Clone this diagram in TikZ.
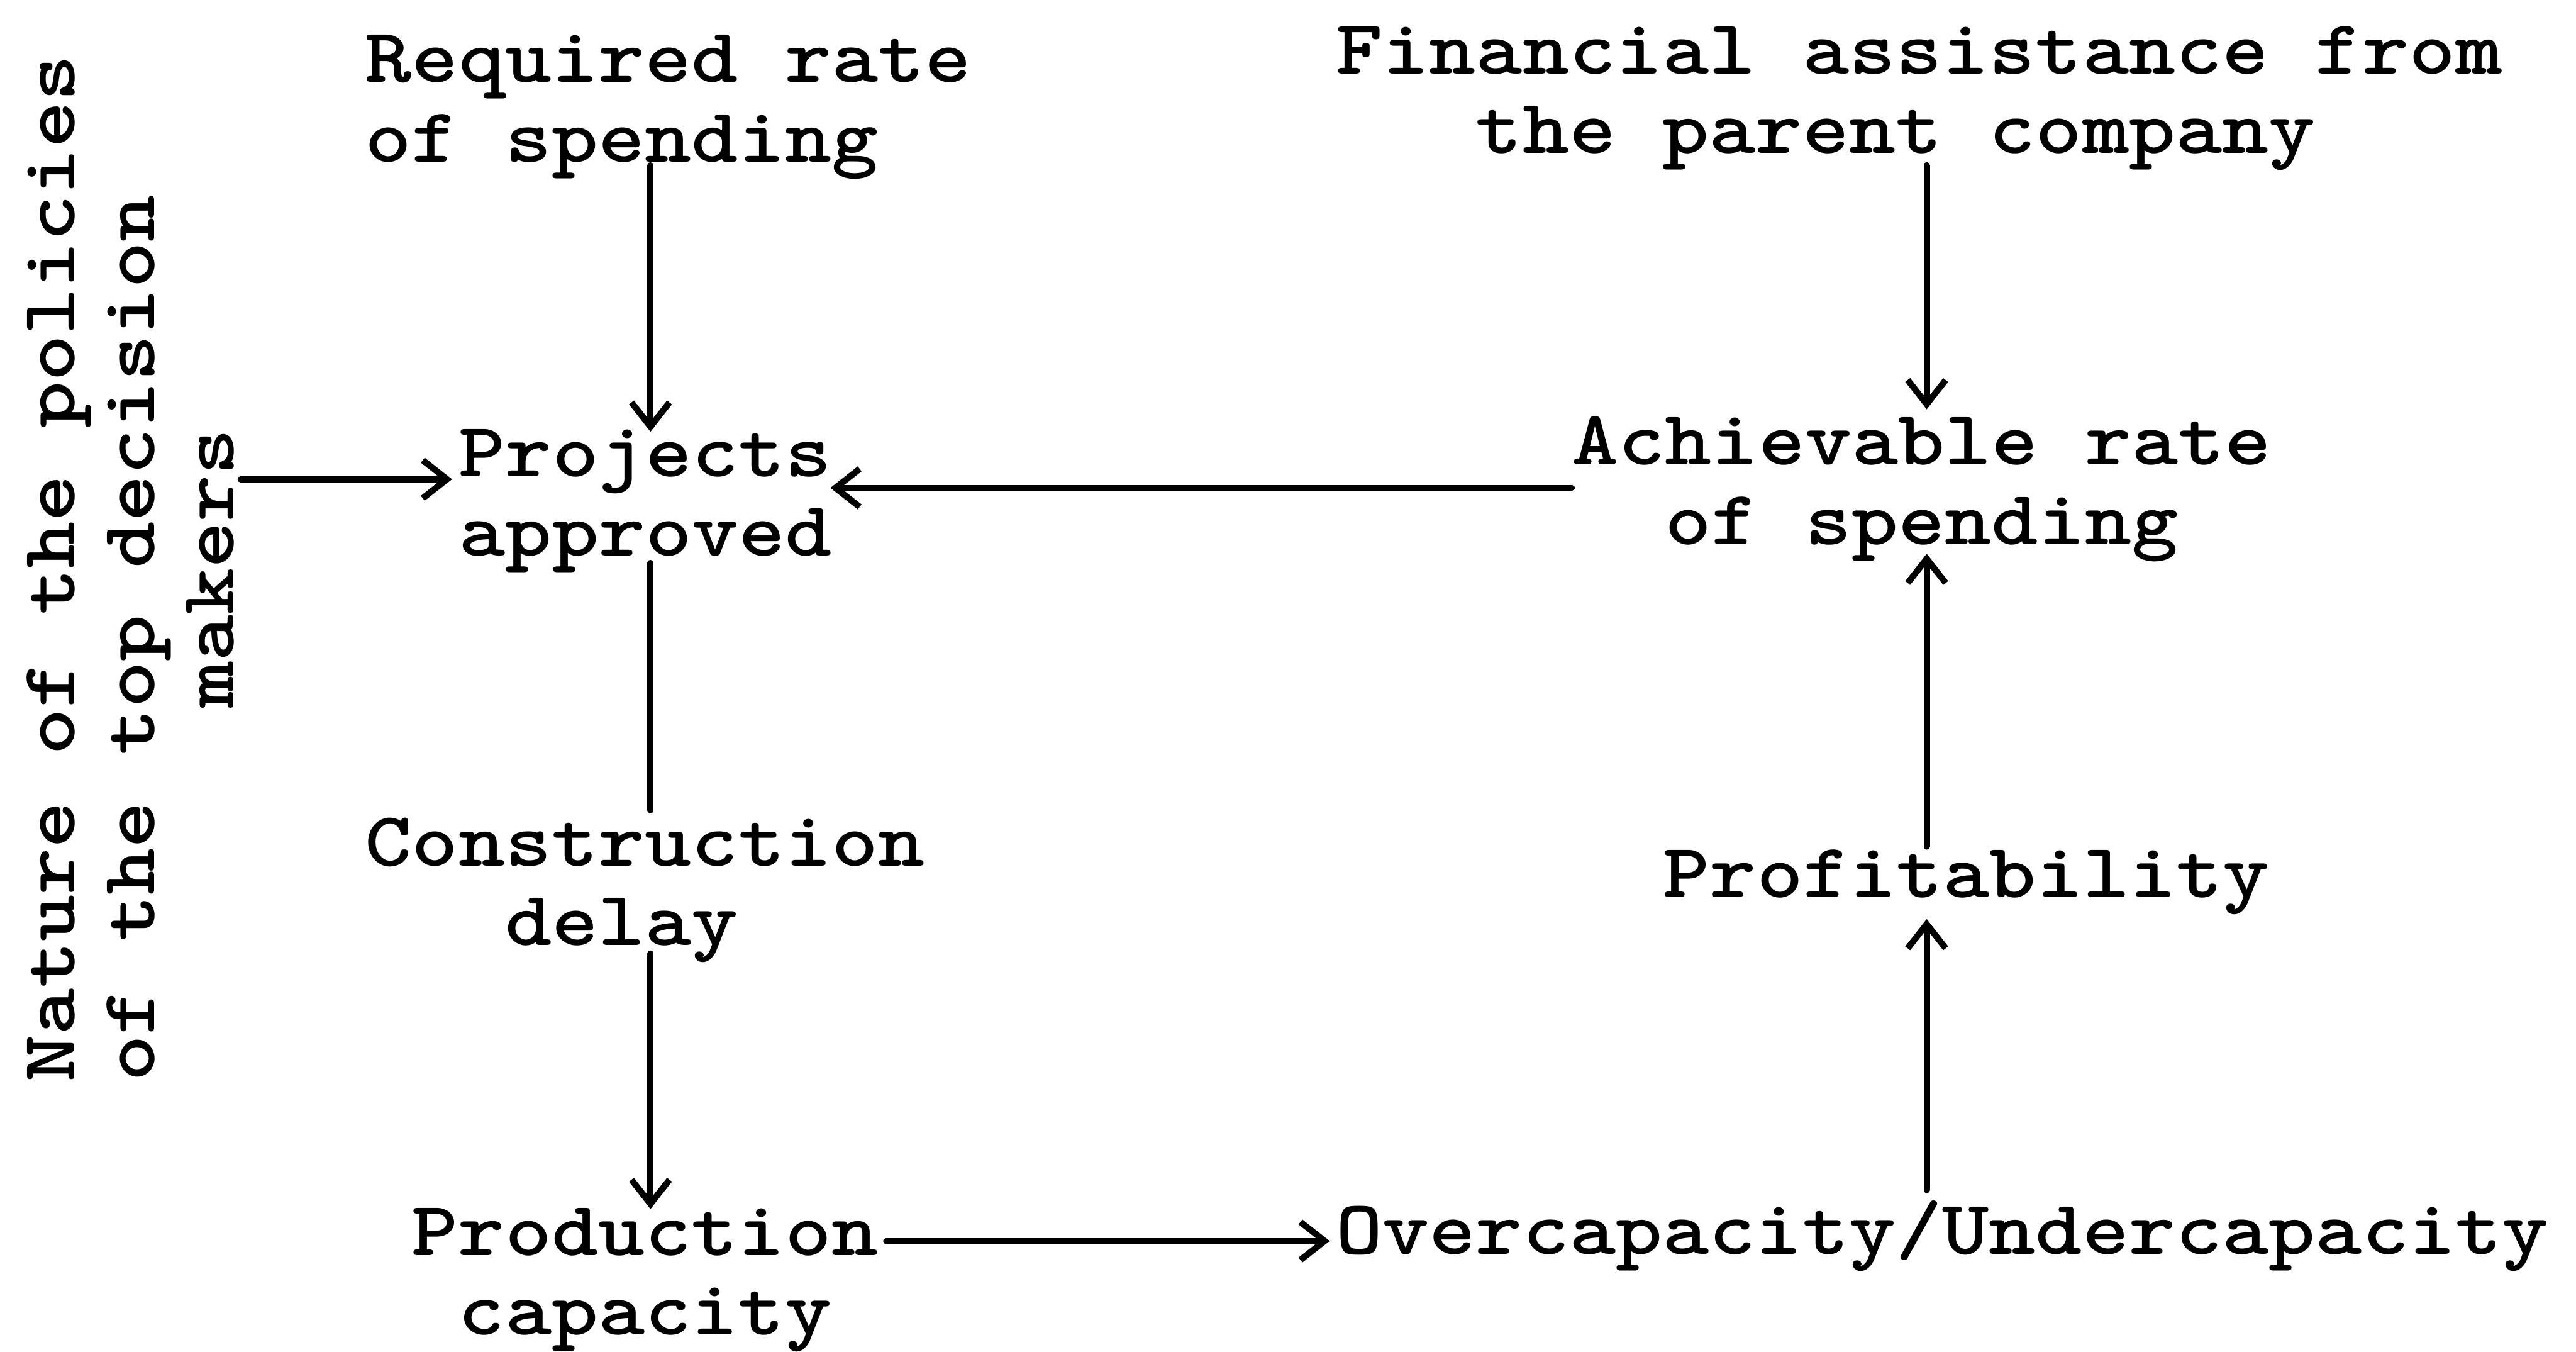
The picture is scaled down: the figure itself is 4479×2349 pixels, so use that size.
\documentclass[tikz,border=0pt]{standalone}
\usepackage{graphicx}
\usetikzlibrary{arrows.meta}
\newcommand\twl[1]{\scalebox{1.15}[1]{\begin{tabular}[t]{@{}l@{}}#1\end{tabular}}}
\newcommand\twc[1]{\scalebox{1.15}[1]{\begin{tabular}[t]{@{}c@{}}#1\end{tabular}}}
\begin{document}
\begin{tikzpicture}[x=0.01cm,y=-0.01cm,
  lbl/.style={inner sep=0pt,outer sep=0pt,anchor=base west,
    font={\ttfamily\bfseries\fontsize{38.2pt}{39.26pt}\selectfont}},
  ln/.style={line width=3.1pt,line cap=round},
  arr/.style={ln,-{Straight Barb[length=0.42cm,width=0.66cm,line width=3.1pt]}}]
\useasboundingbox (0,0) rectangle (4479,2349);
\fill[white] (0,0) rectangle (4479,2349);
% nodes
\node[lbl] (req) at (635,143) {\twl{Required rate\\of spending}};
\node[lbl] (fin) at (2323,128) {\twl{Financial assistance from\\\phantom{aaa}the parent company}};
\node[lbl] (proj) at (798,828) {\twl{Projects\\approved}};
\node[lbl] (ach) at (2733,808) {\twc{Achievable rate\\of spending}};
\node[lbl] (cons) at (635,1505) {\twl{Construction\\\phantom{aaa}delay}};
\node[lbl] (prof) at (2892,1560) {\twl{Profitability}};
\node[lbl] (prod) at (716,2182) {\twc{Production\\capacity}};
\node[lbl] (over) at (2323,2180) {\twl{Overcapacity/Undercapacity}};
\node[lbl,rotate=90] (nat) at (130,1880) {\twl{Nature of the policies\\of the top decision\\\phantom{aaaaaaaa}makers}};
% spines
\coordinate (spL) at (1131,0);
\coordinate (spR) at (3350,0);
% connectors
\draw[arr] ([yshift=0.35cm]req.south -| spL) -- ([yshift=-0.19cm]proj.north -| spL);
\draw[ln] ([yshift=0.29cm]proj.south -| spL) -- (cons.north -| spL);
\draw[arr] ([yshift=0.27cm]cons.south -| spL) -- ([yshift=-0.16cm]prod.north -| spL);
\coordinate (pc) at ([xshift=0.14cm,yshift=0.25cm]prod.base east);
\draw[arr] (pc) -- ([xshift=-0.11cm]pc -| over.west);
\draw[arr] ([yshift=0.15cm]over.north -| spR) -- ([yshift=0.04cm]prof.south -| spR);
\draw[arr] ([yshift=-0.08cm]prof.north -| spR) -- ([yshift=0.25cm]ach.south -| spR);
\draw[arr] ([yshift=0.20cm]fin.south -| spR) -- (ach.north -| spR);
\coordinate (aw) at ([yshift=-0.40cm]ach.base west);
\draw[arr] (aw) -- ([xshift=-0.03cm]aw -| proj.east);
\coordinate (pw) at ([xshift=-0.12cm,yshift=-0.05cm]proj.base west);
\draw[arr] ([xshift=-0.29cm]nat.south |- pw) -- (pw);
\end{tikzpicture}
\end{document}
